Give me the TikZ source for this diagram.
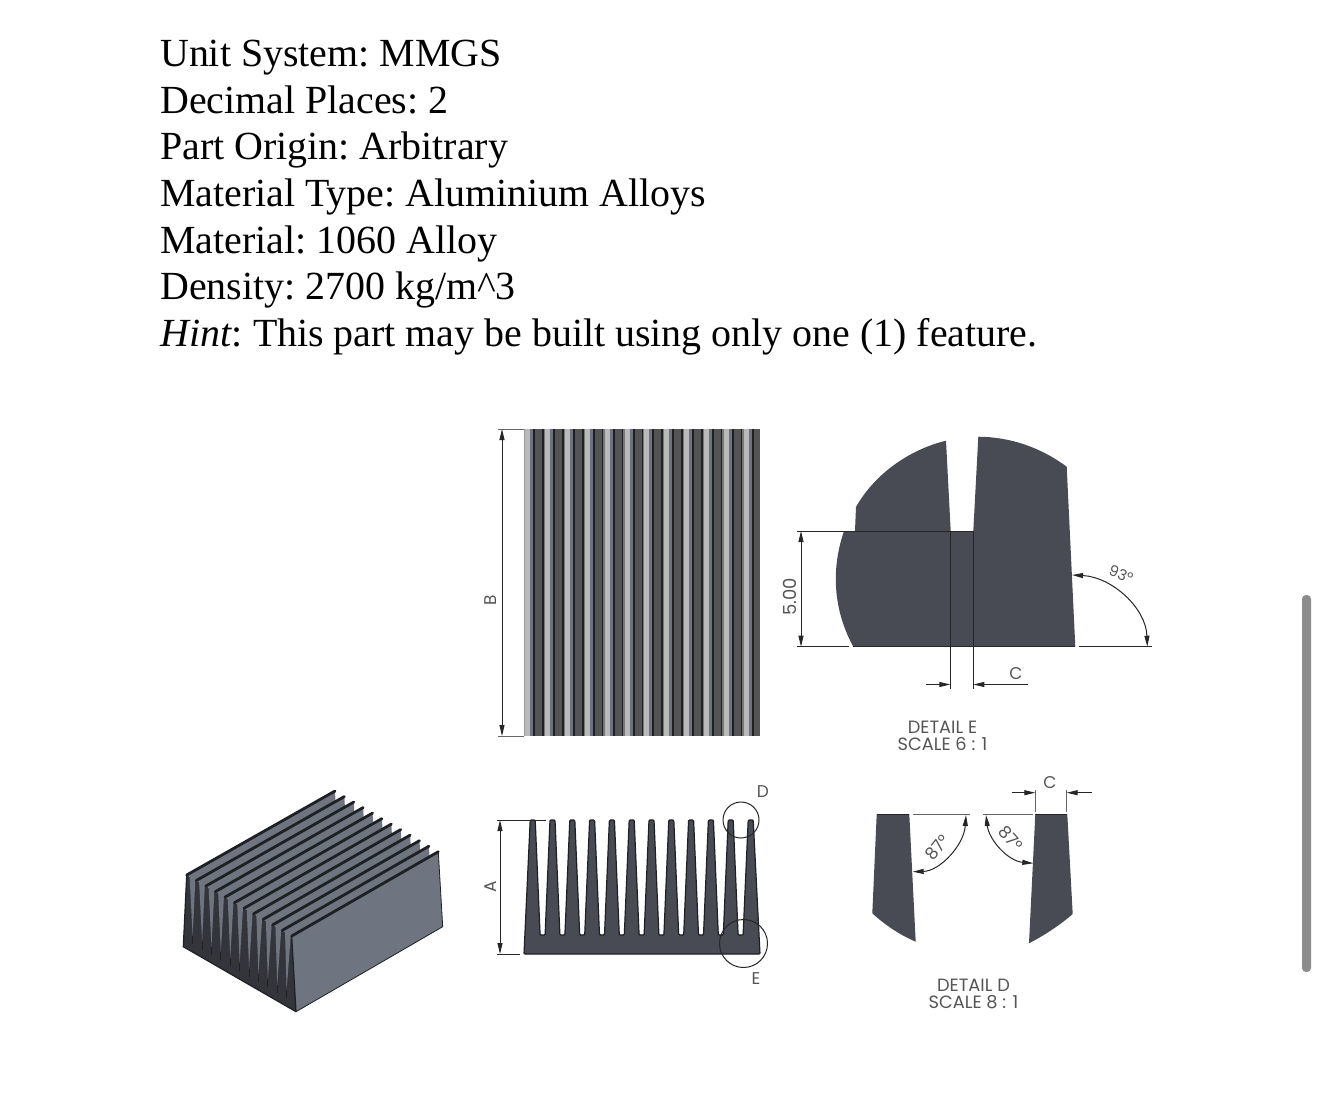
\documentclass[tikz,border=0pt]{standalone}
\usepackage{fontspec}
\setmainfont{Liberation Serif}
\newfontfamily\dimfont{Poppins}
\usetikzlibrary{arrows.meta,calc}
\definecolor{partfill}{HTML}{484B53}
\definecolor{partedge}{HTML}{1E2024}
\definecolor{frontdark}{HTML}{33353B}
\definecolor{sidegray}{HTML}{6F7580}
\definecolor{dimgray}{HTML}{555555}
\definecolor{ribblue}{HTML}{6E727E}
\tikzset{
  dimline/.style={draw=black!85, line width=1pt},
  extline/.style={draw=black!60, line width=1pt},
  dimarrow/.style={dimline, {Stealth[length=11pt,width=5pt,inset=0pt]}-{Stealth[length=11pt,width=5pt,inset=0pt]}},
  endarrow/.style={dimline, -{Stealth[length=11pt,width=5pt,inset=0pt]}},
  dimlabel/.style={font=\dimfont\fontsize{17}{17}\selectfont, text=dimgray, inner sep=0pt},
  titlelabel/.style={font=\dimfont\fontsize{17.8}{17}\selectfont, text=dimgray, inner sep=0pt, align=center},
  partshape/.style={fill=partfill, draw=partedge, line width=1.2pt}
}
\begin{document}
\begin{tikzpicture}[x=1pt,y=-1pt]
    \useasboundingbox (0,0) rectangle (1320,1100);
    \fill[white] (0,0) rectangle (1320,1100);
    % problem text
    \node[anchor=north west, inner sep=0pt, align=left, font=\fontsize{39.9}{46.6}\selectfont\frenchspacing] (spec) at (160,40) {Unit System: MMGS\\Decimal Places: 2\\Part Origin: Arbitrary\\Material Type: Aluminium Alloys\\Material: 1060 Alloy\\Density: 2700 kg/m\textasciicircum 3\\\textit{Hint}: This part may be built using only one (1) feature.};
    % scroll bar
    \fill[black!45, rounded corners=4pt] (1302,595) rectangle (1311,972);

    % top view
    \begin{scope}
    \clip (523.5,429) rectangle (760,736);
    \fill[black!67] (523.5,429) rectangle (760,736);
    \fill[black!40] (523.5,429) rectangle (525.3,736);
    \foreach \i in {0,...,11} {
        \fill[black!27] ({525.3+19.85*\i},429) rectangle ({530.3+19.85*\i},736);
        \fill[ribblue] ({530.3+19.85*\i},429) rectangle ({533.3+19.85*\i},736);
        \fill[partedge] ({533.3+19.85*\i},429) rectangle ({535.3+19.85*\i},736);
        \fill[partedge] ({542.3+19.85*\i},429) rectangle ({543.8+19.85*\i},736);
        \fill[black!53] ({543.8+19.85*\i},429) rectangle ({545.2+19.85*\i},736);
    }
    \end{scope}
    \coordinate (btop) at (502,429);
    \coordinate (bbot) at (502,736);
    \draw[extline] (498,429) -- (524,429);
    \draw[extline] (498,736) -- (524,736);
    \draw[dimarrow] (btop) -- (bbot);
    \node[dimlabel, rotate=90] (blabel) at (491,600) {B};

    % side view
    \path[partshape, rounded corners=1pt] (524,954)
        \foreach \i in {0,...,10} {
            -- ({532.7+19.8*\i-2.5},820) -- ({532.7+19.8*\i+2.5},820) -- ({532.7+19.8*\i+7.4},935) -- ({532.7+19.8*\i+12.4},935)
        }
        -- (748.2,820) -- (753.2,820) -- (760,954) -- cycle;
    \coordinate (atop) at (500,820);
    \coordinate (abot) at (500,954);
    \draw[dimline] (497,820) -- (546,820);
    \draw[dimline] (497,954) -- (520,954);
    \draw[dimarrow] (atop) -- (abot);
    \node[dimlabel, rotate=90] (alabel) at (491,887) {A};
    \node[dimline, circle, minimum size=36pt, inner sep=0pt] (circd) at (741,820) {};
    \node[dimline, circle, minimum size=48pt, inner sep=0pt] (circe) at (743.5,943.5) {};
    \node[dimlabel] (dlabel) at (763,792) {D};
    \node[dimlabel] (elabel) at (756,979) {E};

    % isometric view
    \coordinate (fl) at (186.7,875);
    \coordinate (fr) at (291.7,936);
    \coordinate (bl) at (335,791);
    \coordinate (br) at (438.3,851.7);
    \coordinate (gl) at (183.3,946.7);
    \coordinate (gr) at (296,1011.7);
    \coordinate (er) at (442.7,926.7);
    \fill[fill=sidegray] (fr) -- (br) -- (er) -- (gr) -- cycle;
    \fill[fill=frontdark] (fl) -- (fr) -- (gr) -- (gl) -- cycle;
    \foreach \i [evaluate=\i as \j using int(\i+1)] in {0,...,10} {
        \coordinate (f0) at ($(fl)!\i/11!(fr)$);
        \coordinate (f1) at ($(fl)!\j/11!(fr)$);
        \coordinate (b0) at ($(bl)!\i/11!(br)$);
        \coordinate (b1) at ($(bl)!\j/11!(br)$);
        \fill[sidegray] (f0) -- (b0) -- ($(b1)!.06!(f1)$) -- (f1) -- cycle;
        \fill[sidegray] ($(f0)!.3!(f1)$) -- ($(f0)!.9!(f1)$) -- ($(gl)!\j/12!(gr)+(0,-16)$) -- cycle;
        \draw[partedge, line width=1pt] ($(gl)!\j/12!(gr)+(0,-16)$) -- ($(gl)!\j/12!(gr)+(0,-8)$);
        \draw[partedge, line width=2.8pt, line cap=round] (f0) -- (b0);
    }
    \draw[partedge, line width=2.8pt, line cap=round] (fr) -- (br);
    \draw[partedge, line width=1.2pt, line join=round] (fl) -- (gl) -- (gr) -- (fr);
    \draw[partedge, line width=0.8pt] (gr) -- (er) -- (br);

    % detail E
    \fill[partfill] (855,531) -- (856,507) .. controls (874,475) and (908,450) .. (946,440.7) -- (950.7,531) -- (973.3,531) -- (978.3,436.7) .. controls (1010,437) and (1040,447) .. (1066.7,466.7) -- (1075.3,646.7) -- (853.3,646.7) .. controls (836,615) and (829,575) .. (844,531) -- cycle;
    \coordinate (ftop) at (801,531);
    \coordinate (fbot) at (801,646.7);
    \draw[dimline] (797,531) -- (973.3,531);
    \draw[dimline] (797,646.7) -- (849,646.7);
    \draw[dimline] (853,646.7) -- (1075.3,646.7);
    \draw[dimline] (1079,646.7) -- (1151.7,646.7);
    \draw[dimarrow] (ftop) -- (fbot);
    \node[dimlabel, font=\dimfont\fontsize{18}{18}\selectfont, rotate=90] (fivelabel) at (790,597) {5.00};
    \draw[dimline] (950.3,531) -- (950.3,689);
    \draw[dimline] (973.3,531) -- (973.3,689);
    \coordinate (cleft) at (926,684.5);
    \coordinate (cright) at (1028,684.5);
    \draw[endarrow] (cleft) -- (950.3,684.5);
    \draw[endarrow] (cright) -- (973.3,684.5);
    \node[dimlabel] (clabele) at (1016,674) {C};
    \coordinate (angea) at (1072,575);
    \coordinate (angeb) at (1147.3,646.7);
    \draw[dimarrow] (angea) .. controls (1112,577) and (1146,608) .. (angeb);
    \node[dimlabel, rotate=-22, font=\dimfont\fontsize{15}{15}\selectfont] (anglee) at (1121,574) {93°};
    \node[titlelabel] (titlee) at (942.5,736) {DETAIL E\\SCALE 6 : 1};

    % detail D
    \fill[partfill] (876.7,814.3) -- (909.3,814.3) -- (915.7,941.7) .. controls (900,935) and (885,925) .. (872.3,913.3) -- cycle;
    \fill[partfill] (1035.3,814.3) -- (1067.3,814.3) -- (1072.7,914) .. controls (1060,925) and (1045,935) .. (1029,943.3) -- cycle;
    \draw[dimline] (876.7,814.3) -- (909.3,814.3);
    \draw[dimline] (1035.3,814.3) -- (1067.3,814.3);
    \draw[extline] (912.7,814.3) -- (970,814.3);
    \draw[extline] (983.3,814.3) -- (1033.3,814.3);
    \coordinate (anglaa) at (966,815);
    \coordinate (anglab) at (912.7,871.7);
    \coordinate (angraa) at (986,815);
    \coordinate (angrab) at (1033.3,863.3);
    \draw[dimarrow] (anglaa) .. controls (964,845) and (940,871) .. (anglab);
    \draw[dimarrow] (angraa) .. controls (989,840) and (1008,861) .. (angrab);
    \node[dimlabel, rotate=52] (anglel) at (937.5,847.5) {87°};
    \node[dimlabel, rotate=-48] (angler) at (1011,838.5) {87°};
    \draw[extline] (1035.3,790) -- (1035.3,812);
    \draw[extline] (1066.7,790) -- (1066.7,812);
    \coordinate (dleft) at (1011.7,792.7);
    \coordinate (dright) at (1091.7,792.7);
    \draw[endarrow] (dleft) -- (1035.3,792.7);
    \draw[endarrow] (dright) -- (1066.7,792.7);
    \node[dimlabel] (clabeld) at (1050,783) {C};
    \node[titlelabel] (titled) at (973.5,993.5) {DETAIL D\\SCALE 8 : 1};
\end{tikzpicture}
\end{document}
